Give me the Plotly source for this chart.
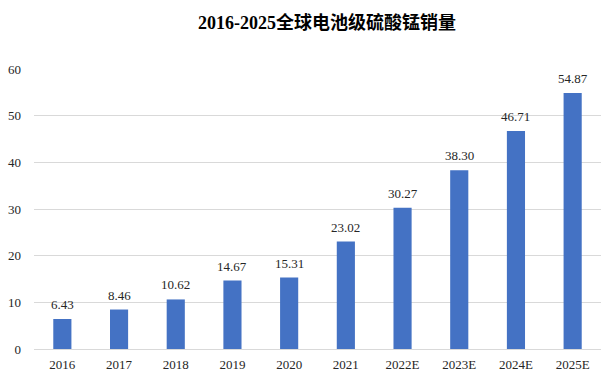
import plotly.graph_objects as go

categories = ["2016", "2017", "2018", "2019", "2020", "2021", "2022E", "2023E", "2024E", "2025E"]
sales = [6.43, 8.46, 10.62, 14.67, 15.31, 23.02, 30.27, 38.30, 46.71, 54.87]
title_text = "2016-2025全球电池级硫酸锰销量"
y_ticks = [0, 10, 20, 30, 40, 50, 60]

serif = "Liberation Serif, Times New Roman, Noto Sans CJK SC, serif"
txt = "#262626"

fig = go.Figure(go.Bar(
    x=categories,
    y=sales,
    marker=dict(color="#4472C4", line=dict(width=0)),
    cliponaxis=False,
    width=0.32,
    hoverinfo="x+y",
))

# value labels: placed at each category's index on the category axis
for i, v in enumerate(sales):
    fig.add_annotation(x=i, y=v, text=f"{v:.2f}", showarrow=False,
                       xanchor="center", yanchor="bottom", yshift=5,
                       font=dict(family=serif, size=13, color=txt))

fig.update_layout(
    width=601, height=381,
    margin=dict(l=34, r=0, t=69, b=32, autoexpand=False),
    paper_bgcolor="white", plot_bgcolor="white",
    title=dict(text=f"<b>{title_text}</b>", x=0.544, xanchor="center", y=0.94, yanchor="middle",
               font=dict(family=serif, size=18, color="#000000")),
    showlegend=False,
    font=dict(family=serif, size=13, color=txt),
)
fig.update_xaxes(type="category", categoryorder="array", categoryarray=categories,
                 range=[-0.5, len(categories) - 0.5],
                 showgrid=False, showline=True, linecolor="#d9d9d9", linewidth=1,
                 ticks="", tickfont=dict(family=serif, size=13, color=txt), ticklabelstandoff=3)
fig.update_yaxes(range=[0, 60], tickvals=y_ticks, showgrid=True, gridcolor="#d9d9d9",
                 gridwidth=1, zeroline=False, showline=False, ticks="",
                 tickfont=dict(family=serif, size=13, color=txt), ticklabelstandoff=12)

fig.write_html("out.html", config={"displayModeBar": False},
               post_script="document.body.style.margin='0';")
